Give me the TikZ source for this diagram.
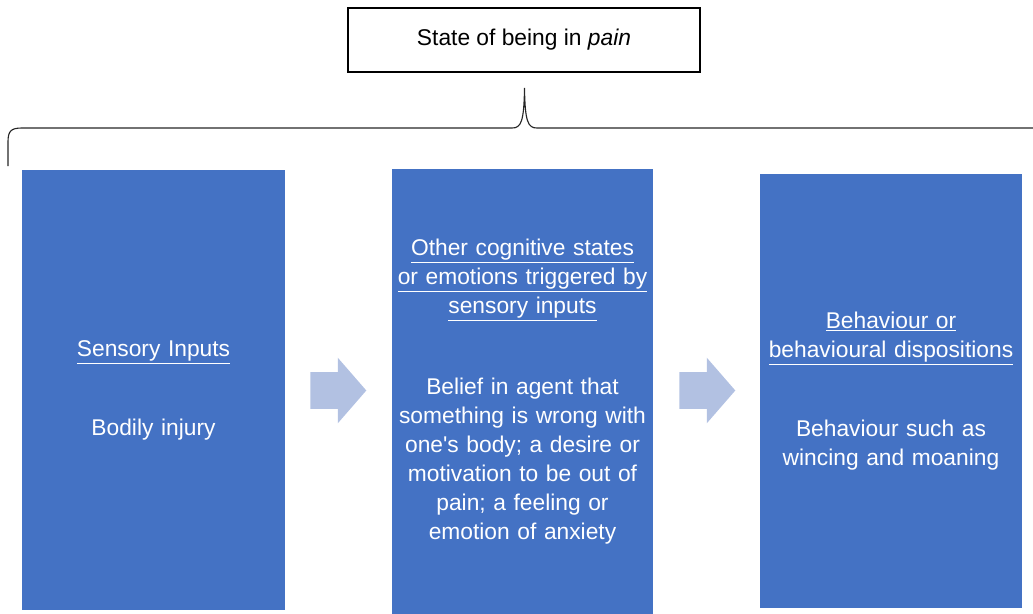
\documentclass[tikz,border=0pt]{standalone}
\usepackage{fontspec}
\setmainfont{Liberation Sans}
\usepackage{xcolor}
\usepackage{tikz}
\usetikzlibrary{shapes.arrows, positioning, calc}
\definecolor{boxblue}{RGB}{68,114,196}
\definecolor{arrowblue}{RGB}{178,193,226}
\tikzstyle{titlebox} = [rectangle, minimum width=8.8cm, minimum height=1.6cm, text centered, draw=black, line width=0.8pt, fill=white]
\tikzstyle{bluebox} = [rectangle, text width=6.4cm, align=center, fill=boxblue, text=white, inner sep=0pt]
\tikzstyle{blockarrow} = [single arrow, fill=arrowblue, minimum height=1.4cm, inner xsep=0pt, inner ysep=0.45cm, single arrow head extend=0.3625cm, single arrow tip angle=98, anchor=tail]
\tikzstyle{brace} = [line width=0.8pt, black!85]

\begin{document}
\begin{tikzpicture}[x=0.025cm, y=-0.025cm, every node/.style={font=\fontsize{16.2pt}{20.6pt}\selectfont}]
\useasboundingbox (0,0) rectangle (1033,613);

% Top label
\node (state) [titlebox] at (524,40) {State of being in \textit{pain}};

% Brace under the label
\draw [brace] (8,166) -- (8,142) .. controls (8,131) and (11,128) .. (22,128)
  -- (512,128) .. controls (521,128) and (524,122) .. (524.5,88)
  .. controls (525,122) and (528,128) .. (537,128) -- (1033,128);

% Three blue boxes
\node (sensory) [bluebox, minimum width=6.575cm, minimum height=11cm] at (153.5,390) {
    \underline{Sensory Inputs}\\[1.25cm]
    Bodily injury
};
\node (cognitive) [bluebox, minimum width=6.525cm, minimum height=11.125cm] at (522.5,391.5) {
    \underline{Other cognitive states}\\
    \underline{or emotions triggered by}\\
    \underline{sensory inputs}\\[1.3cm]
    Belief in agent that\\
    something is wrong with\\
    one\textquotesingle s body; a desire or\\
    motivation to be out of\\
    pain; a feeling or\\
    emotion of anxiety
};
\node (behaviour) [bluebox, minimum width=6.55cm, minimum height=10.85cm] at (891,391) {
    \underline{Behaviour or}\\
    \underline{behavioural dispositions}\\[1.25cm]
    Behaviour such as\\
    wincing and moaning
};

% Block arrows
\node (arr1) [blockarrow] at (310,390.5) {};
\node (arr2) [blockarrow] at (679,390.5) {};

\end{tikzpicture}
\end{document}
